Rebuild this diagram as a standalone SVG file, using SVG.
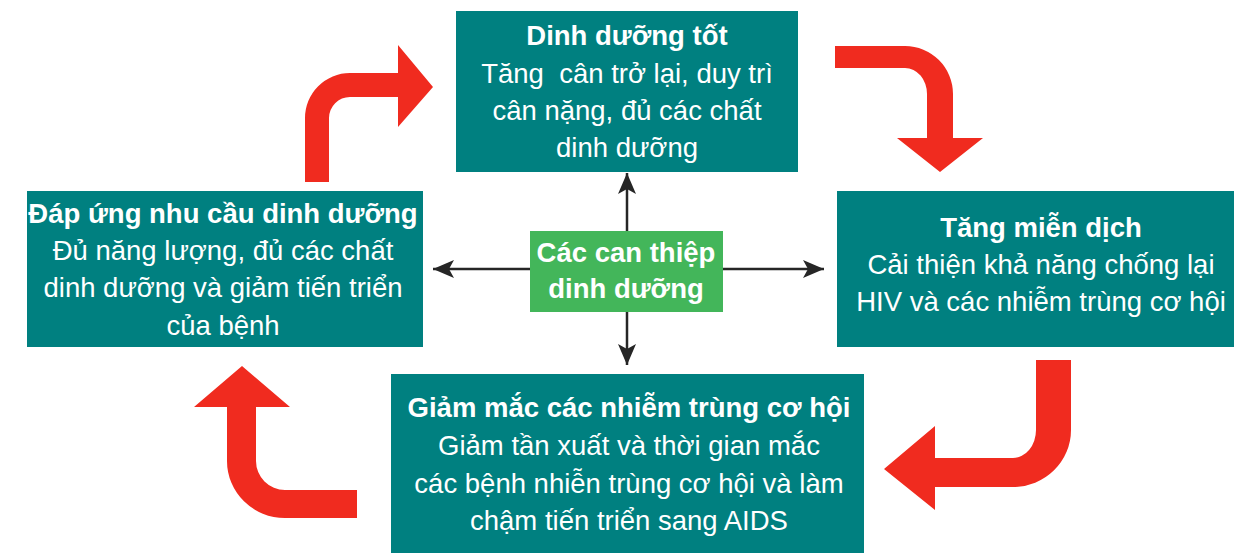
<svg xmlns="http://www.w3.org/2000/svg" width="1243" height="553" viewBox="0 0 1243 553">
<style>
.box{fill:#008080}
.green{fill:#43B65A}
.red{fill:#F02B1F}
text{font-family:"Liberation Sans",Arial,sans-serif;font-size:27.5px;fill:#ffffff;text-anchor:middle}
.b{font-weight:bold}
.conn{stroke:#262626;stroke-width:2.5;fill:none;marker-end:url(#ah)}
</style>
<defs>
<marker id="ah" markerUnits="userSpaceOnUse" viewBox="-22 -10 23 20" refX="0" refY="0" markerWidth="23" markerHeight="20" orient="auto">
<path d="M0,0 L-21,-9 L-16,0 L-21,9 Z" fill="#262626"/>
</marker>
</defs>
<rect width="1243" height="553" fill="#ffffff"/>
<g id="connectors">
<line class="conn" x1="627" y1="269" x2="627" y2="173"/>
<line class="conn" x1="627" y1="269" x2="627" y2="365"/>
<line class="conn" x1="627" y1="269" x2="433" y2="269"/>
<line class="conn" x1="627" y1="269" x2="824" y2="269"/>
<path class="red" d="M305,182 V118 A45,45 0 0 1 350,73 H398 V45 L433,87 L398,127 V97 H350 A21,21 0 0 0 329,118 V182 Z"/>
<path class="red" d="M835,46 H905 A48,48 0 0 1 953,94 V138 H983 L940,172 L897,138 H927 V94 A22,26 0 0 0 905,68 H835 Z"/>
<path class="red" d="M1071,360 V430 A58,57 0 0 1 1013,487 H935 V510 L884,469 L935,426 V458 H1013 A23,28 0 0 0 1036,430 V360 Z"/>
<path class="red" d="M357,490 H285 A29,29 0 0 1 256,461 V407 H290 L242,366 L194,407 H227 V461 A58,57 0 0 0 285,518 H357 Z"/>
</g>
<g id="node-top">
<rect class="box" x="456" y="11" width="342" height="161"/>
<text class="b" x="627" y="45">Dinh dưỡng tốt</text>
<text x="627" y="83" xml:space="preserve">Tăng  cân trở lại, duy trì</text>
<text x="627" y="120">cân nặng, đủ các chất</text>
<text x="627" y="157">dinh dưỡng</text>
</g>
<g id="node-left">
<rect class="box" x="27" y="191" width="396" height="156"/>
<text class="b" x="223" y="223">Đáp ứng nhu cầu dinh dưỡng</text>
<text x="223" y="260">Đủ năng lượng, đủ các chất</text>
<text x="223" y="297">dinh dưỡng và giảm tiến triển</text>
<text x="223" y="335">của bệnh</text>
</g>
<g id="node-right">
<rect class="box" x="837" y="191" width="397" height="156"/>
<text class="b" x="1041" y="237">Tăng miễn dịch</text>
<text x="1041" y="274">Cải thiện khả năng chống lại</text>
<text x="1041" y="311">HIV và các nhiễm trùng cơ hội</text>
</g>
<g id="node-bottom">
<rect class="box" x="391" y="374" width="473" height="179"/>
<text class="b" x="629" y="417">Giảm mắc các nhiễm trùng cơ hội</text>
<text x="629" y="455">Giảm tần xuất và thời gian mắc</text>
<text x="629" y="493">các bệnh nhiễn trùng cơ hội và làm</text>
<text x="629" y="530">chậm tiến triển sang AIDS</text>
</g>
<g id="node-center">
<rect class="green" x="530" y="231" width="193" height="81"/>
<text class="b" x="626" y="262">Các can thiệp</text>
<text class="b" x="626" y="298">dinh dưỡng</text>
</g>
</svg>
